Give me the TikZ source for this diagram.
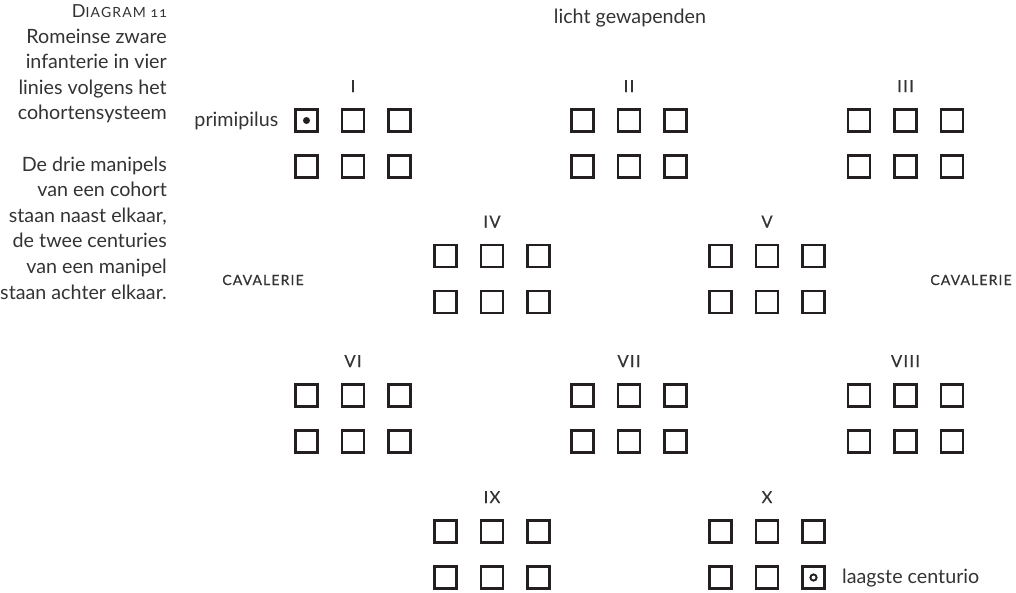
\documentclass[tikz,border=0pt]{standalone}
\usepackage{fontspec}
\setmainfont{Lato}
\newfontfamily\scfont[LetterSpace=8, FakeBold=0.45]{Lato}
\newfontfamily\dgfont[LetterSpace=8, Numbers=OldStyle]{Lato}
\definecolor{ink}{HTML}{231F20}
\definecolor{txt}{HTML}{333333}
\begin{document}
\begin{tikzpicture}[x=1pt,y=-1pt,
  man/.style={draw=ink, line width=2.6pt, minimum size=22pt, inner sep=0pt, outer sep=0pt},
  numlab/.style={anchor=base, inner sep=0pt, text=txt, font=\scfont\fontsize{16.5}{18}\selectfont},
  sclab/.style={anchor=base, inner sep=0pt, text=txt, font=\scfont\fontsize{14}{16}\selectfont},
  body/.style={inner sep=0pt, text=txt, font=\fontsize{19.7}{25.6}\selectfont},
  capline/.style={body, anchor=base east}]
\useasboundingbox (0,0) rectangle (1016,592);
% caption
\node[capline] (cap0) at (167,17.5) {{\fontsize{18}{20}\selectfont D}{\dgfont\fontsize{14}{16}\selectfont IAGRAM 11}};
\foreach \k/\t in {1/Romeinse zware, 2/infanterie in vier, 3/linies volgens het, 4/cohortensysteem,
  6/De drie manipels, 7/van een cohort, 8/{staan naast elkaar,}, 9/de twee centuries,
  10/van een manipel, 11/staan achter elkaar.}{
  \node[capline] (cap\k) at (167,17.5+\k*25.6) {\t};
}
% cohorts
\foreach \n/\cx/\cy/\lab in {1/353/120.5/I, 2/629/120.5/II, 3/905.5/120.5/III,
  4/492/256/IV, 5/767/256/V,
  6/353/395.5/VI, 7/629/395.5/VII, 8/905.5/395.5/VIII,
  9/492/531.5/IX, 10/767/531.5/X}{
  \node[numlab] (lab\n) at (\cx,\cy-28.5) {\lab};
  \foreach \r in {0,1}{
    \foreach \c in {1,2,3}{
      \node[man] (m\n-\r-\c) at ({\cx+(\c-2)*46.5},{\cy+\r*46}) {};
    }
  }
}
% marks
\node[circle, fill=ink, minimum size=7pt, inner sep=0pt] (dot) at (m1-0-1.center) {};
\node[circle, draw=ink, line width=1.9pt, minimum size=6.2pt, inner sep=0pt] (ring) at (m10-1-3.center) {};
% labels
\node[body, anchor=base east] (prim) at (278.5,126) {primipilus};
\node[body, anchor=base west] (laag) at (842,583) {laagste centurio};
\node[body, anchor=base] (licht) at (630,23) {licht gewapenden};
\node[sclab] (cavl) at (263,285) {CAVALERIE};
\node[sclab] (cavr) at (971,285) {CAVALERIE};
\end{tikzpicture}
\end{document}
